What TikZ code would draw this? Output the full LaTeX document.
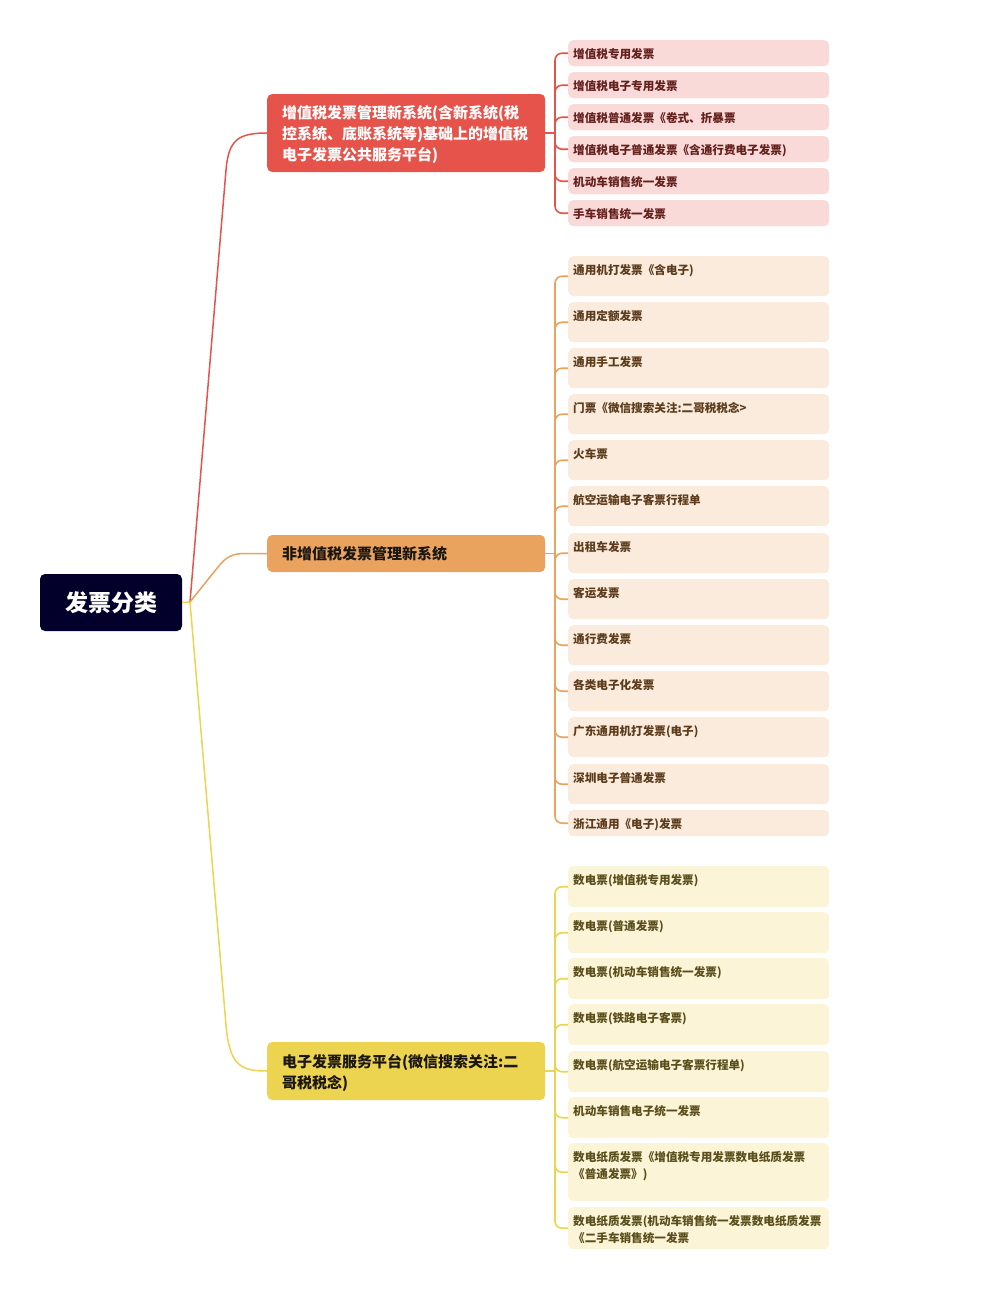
\documentclass[tikz,border=0pt]{standalone}
\usepackage{fontspec}
\setmainfont{Noto Sans CJK SC}
\usetikzlibrary{calc}
\definecolor{rootc}{RGB}{2,0,42}
\definecolor{redc}{RGB}{229,83,75}
\definecolor{orac}{RGB}{234,163,94}
\definecolor{yelc}{RGB}{237,212,80}
\definecolor{redl}{RGB}{249,218,216}
\definecolor{oral}{RGB}{250,235,221}
\definecolor{yell}{RGB}{251,244,214}
\definecolor{redt}{RGB}{100,32,28}
\definecolor{orat}{RGB}{92,60,28}
\definecolor{yelt}{RGB}{90,78,28}
\definecolor{brt}{RGB}{26,22,18}
\newcommand{\upstrut}{\rule{0pt}{17pt}}
\tikzset{
  leafbox/.style={anchor=north west, minimum width=261pt, inner sep=0pt, rounded corners=5pt, draw=none},
  leaftxt/.style={anchor=north west, inner sep=0pt, align=left, font=\bfseries\fontsize{11.6}{17}\selectfont},
  branchbox/.style={anchor=west, minimum width=278pt, inner xsep=15pt, inner ysep=0pt, rounded corners=5pt, align=left, text width=248pt, font=\bfseries\fontsize{15}{21}\selectfont},
  rootline/.style={line width=1.5pt},
  leafline/.style={line width=1.6pt, rounded corners=7pt},
}
\begin{document}
\begin{tikzpicture}[x=1pt,y=-1pt]
\useasboundingbox (0,0) rectangle (1002,1304);
% root
\node[fill=rootc, rounded corners=5pt, minimum width=142pt, minimum height=57pt, text=white, font=\bfseries\fontsize{23}{27}\selectfont] (root) at (111,602.5) {发票分类};
% branches
\node[branchbox, fill=redc, text=white, minimum height=78pt] (b1) at (267,133) {\upstrut 增值税发票管理新系统(含新系统(税\\控系统、底账系统等)基础上的增值税\\电子发票公共服务平台)};
\node[branchbox, fill=orac, text=brt, minimum height=37pt] (b2) at (267,553.5) {非增值税发票管理新系统};
\node[branchbox, fill=yelc, text=brt, minimum height=58pt] (b3) at (267,1071) {\upstrut 电子发票服务平台(微信搜索关注:二\\哥税税念)};
% root connectors
\coordinate (r0) at (190,602);
\draw[rootline, yelc] (root.east) -- (r0);
\draw[rootline, redc] (r0) -- (226,170) .. controls (228.5,140) and (238,133) .. (b1.west);
\draw[rootline, orac] (r0) -- (218,567) .. controls (226,557) and (232,553.5) .. (245,553.5) -- (b2.west);
\draw[rootline, yelc] (r0) -- (226,1025) .. controls (229.5,1065) and (240,1071) .. (b3.west);
% trunk coordinates
\coordinate (t1) at (555,133);
\coordinate (t2) at (555,553.5);
\coordinate (t3) at (555,1071);
\draw[line width=1.6pt, redc] (b1.east) -- (t1);
\draw[line width=1.6pt, orac] (b2.east) -- (t2);
\draw[line width=1.6pt, yelc] (b3.east) -- (t3);
% red leaves
\foreach \i/\y/\t in {1/40/增值税专用发票, 2/72/增值税电子专用发票, 3/104/增值税普通发票《卷式、折暴票, 4/136/增值税电子普通发票《含通行费电子发票), 5/168/机动车销售统一发票, 6/200/手车销售统一发票}{
  \node[leafbox, fill=redl, minimum height=26pt] (ra\i) at (568,\y) {};
  \node[leaftxt, text=redt] (rt\i) at ($(ra\i.north west)+(5,8.5)$) {\t};
  \draw[leafline, redc] (t1) |- (ra\i.west);
}
% orange leaves
\foreach \i/\y/\h/\t in {1/256/40/通用机打发票《含电子), 2/302/40/通用定额发票, 3/348/40/通用手工发票, 4/394/40/门票《微信搜索关注:二哥税税念>, 5/440/40/火车票, 6/486/40/航空运输电子客票行程单, 7/533/40/出租车发票, 8/579/40/客运发票, 9/625/40/通行费发票, 10/671/40/各类电子化发票, 11/717/40/广东通用机打发票(电子), 12/764/40/深圳电子普通发票, 13/810/26/浙江通用《电子)发票}{
  \node[leafbox, fill=oral, minimum height=\h pt] (oa\i) at (568,\y) {};
  \node[leaftxt, text=orat] (ot\i) at ($(oa\i.north west)+(5,8.5)$) {\t};
  \draw[leafline, orac] (t2) |- (oa\i.west);
}
% yellow leaves
\foreach \i/\y/\h/\t in {1/866/41/数电票(增值税专用发票), 2/912/41/数电票(普通发票), 3/958/41/数电票(机动车销售统一发票), 4/1004/41/数电票(铁路电子客票), 5/1051/41/数电票(航空运输电子客票行程单), 6/1097/41/机动车销售电子统一发票, 7/1143/58/{数电纸质发票《增值税专用发票数电纸质发票\\《普通发票》)}, 8/1207/42/{数电纸质发票(机动车销售统一发票数电纸质发票\\《二手车销售统一发票}}{
  \node[leafbox, fill=yell, minimum height=\h pt] (ya\i) at (568,\y) {};
  \node[leaftxt, text=yelt] (yt\i) at ($(ya\i.north west)+(5,8.5)$) {\t};
  \draw[leafline, yelc] (t3) |- (ya\i.west);
}
\end{tikzpicture}
\end{document}
